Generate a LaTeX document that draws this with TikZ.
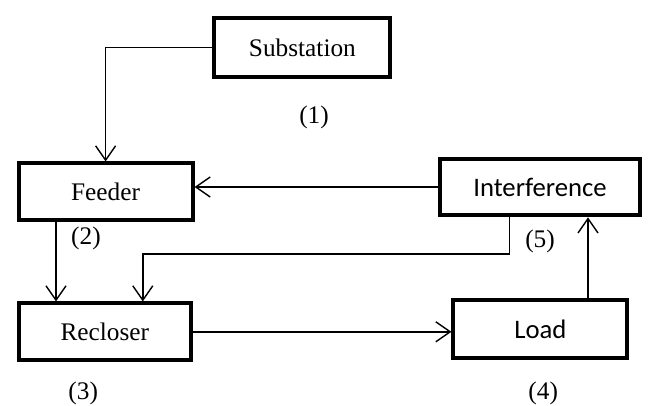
\documentclass[tikz,border=0pt]{standalone}
\usepackage{fontspec}
\setmainfont{Liberation Serif}
\newfontfamily\calibri{Carlito}
\usetikzlibrary{arrows.meta}

\begin{document}
\begin{tikzpicture}[
  block/.style={draw, line width=2.8pt, minimum width=4.35cm, minimum height=1.42cm, font=\fontsize{18}{20}\selectfont},
  blocksans/.style={block, font=\fontsize{19}{21}\selectfont\calibri},
  lbl/.style={font=\fontsize{18}{20}\selectfont},
  link/.style={line width=1pt, -{Straight Barb[length=3.6mm,width=5mm,line width=1pt]}}
]
\useasboundingbox (0,0) rectangle (16.2,10.125);

\node[block, minimum width=4.4cm, minimum height=1.48cm] (sub) at (7.56,8.94) {Substation};
\node[block] (feeder) at (2.64,5.33) {Feeder};
\node[blocksans, minimum width=5cm] (intf) at (13.5,5.45) {Interference};
\node[block, minimum width=4.3cm] (recl) at (2.62,1.83) {Recloser};
\node[blocksans, minimum height=1.46cm] (load) at (13.51,1.9) {Load};

\node[lbl] (n1) at (7.85,7.2) {(1)};
\node[lbl] (n2) at (2.15,4.17) {(2)};
\node[lbl] (n5) at (13.5,4.1) {(5)};
\node[lbl] (n3) at (2.08,0.3) {(3)};
\node[lbl] (n4) at (13.58,0.3) {(4)};

\coordinate (bend) at (12.73,3.77);

\draw[link] (sub.west) -| (feeder.north);
\draw[link] (intf.west) -- (intf.west -| feeder.east);
\draw[link] ([xshift=-1.24cm]feeder.south) -- ([xshift=-1.24cm]feeder.south |- recl.north);
\draw[link] ([xshift=-0.77cm]intf.south) |- (bend) -| ([xshift=0.95cm]recl.north);
\draw[link] (recl.east) -- (recl.east -| load.west);
\draw[link] ([xshift=1.19cm]load.north) -- ([xshift=1.19cm]load.north |- intf.south);
\end{tikzpicture}
\end{document}
